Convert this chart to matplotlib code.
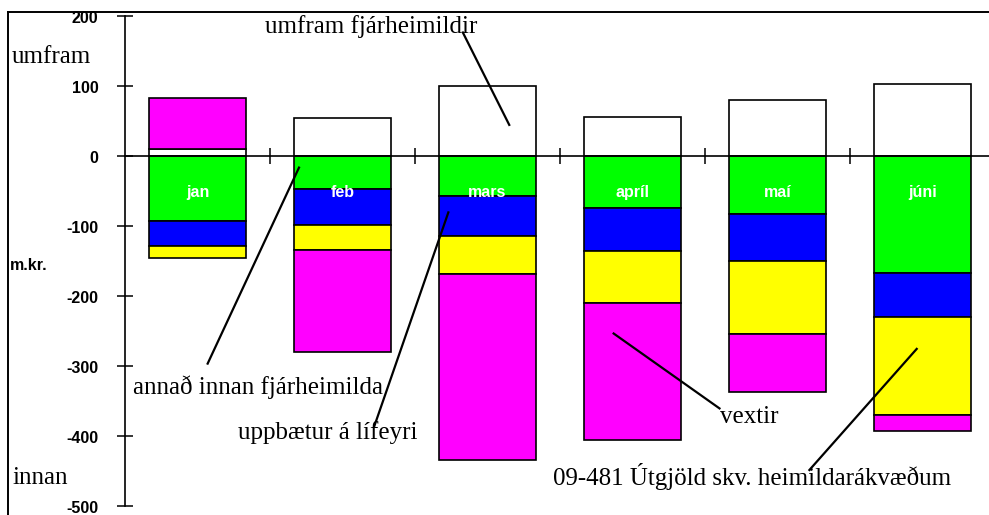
import numpy as np
import matplotlib.pyplot as plt
import matplotlib.transforms as mtransforms
from matplotlib.lines import Line2D

# data (m.kr.)
months = ['jan', 'feb', 'mars', 'apríl', 'maí', 'júni']
umfram = [9, 54, 100, 56, 79, 102]           # umfram fjárheimildir
annad = [-93, -48, -58, -75, -83, -167]      # annað innan fjárheimilda
uppbaetur = [-36, -51, -57, -61, -68, -63]   # uppbætur á lífeyri
utgjold = [-17, -35, -54, -75, -104, -140]   # 09-481 Útgjöld skv. heimildarákvæðum
vextir = [73, -146, -265, -195, -82, -23]    # vextir

series = [
    (umfram, 'white'),
    (annad, '#00ff00'),
    (uppbaetur, '#0000ff'),
    (utgjold, '#ffff00'),
    (vextir, '#ff00ff'),
]

serif = ['Liberation Serif', 'DejaVu Serif']
sans = ['Liberation Sans', 'DejaVu Sans']

fig = plt.figure(figsize=(9.89, 5.15), dpi=100)
# axes deliberately runs past the right edge, like the original
ax = fig.add_axes([125 / 989, 9.3 / 515, 870 / 989, 490 / 515])

x = np.arange(len(months)) + 0.5
pos_bottom = np.zeros(len(months))
neg_bottom = np.zeros(len(months))
for vals, col in series:
    vals = np.array(vals, dtype=float)
    bottom = np.where(vals >= 0, pos_bottom, neg_bottom)
    ax.bar(x, vals, width=0.67, bottom=bottom, color=col,
           edgecolor='black', linewidth=1.2, zorder=3)
    pos_bottom += np.where(vals >= 0, vals, 0)
    neg_bottom += np.where(vals < 0, vals, 0)

for xi, m in zip(x, months):
    ax.text(xi, -53, m, color='white', fontweight='bold', fontsize=11.5,
            family=sans, ha='center', va='center', zorder=5)

ax.set_xlim(0, 6)
ax.set_ylim(-500, 200)
ax.set_yticks(np.arange(-500, 201, 100))
ax.set_yticklabels([str(v) for v in range(-500, 201, 100)],
                   fontweight='bold', fontsize=11.5, family=sans)
ax.set_xticks([1, 2, 3, 4, 5, 6])
ax.set_xticklabels([])
ax.tick_params(axis='both', direction='inout', length=11.5, width=1.1)
ax.tick_params(axis='y', pad=13.5)
# nudge y tick labels slightly down
shift = mtransforms.ScaledTranslation(0, -1.0 / 100, fig.dpi_scale_trans)
for lab in ax.get_yticklabels():
    lab.set_transform(lab.get_transform() + shift)
ax.spines['top'].set_visible(False)
ax.spines['right'].set_visible(False)
ax.spines['bottom'].set_position(('data', 0))
ax.spines['bottom'].set_zorder(4)
for s in ['left', 'bottom']:
    ax.spines[s].set_linewidth(1.2)
ax.patch.set_alpha(0)

# annotation labels with leader lines
def label(txt, xy_text, p1, p2, ha='left'):
    ax.text(xy_text[0], xy_text[1], txt, family=serif, fontsize=18,
            ha=ha, va='center', zorder=6)
    ax.plot([p1[0], p2[0]], [p1[1], p2[1]], color='black', lw=1.6,
            zorder=6, clip_on=False)

label('umfram fjárheimildir', (1.70, 185), (2.33, 176), (2.65, 44), ha='center')
label('annað innan fjárheimilda', (0.055, -331), (0.57, -297), (1.20, -17))
label('uppbætur á lífeyri', (0.78, -396), (1.72, -386), (2.23, -81))
label('vextir', (4.10, -373), (3.37, -254), (4.10, -361))
label('09-481 Útgjöld skv. heimildarákvæðum', (2.95, -459), (4.72, -449), (5.46, -276))

fig.text(12 / 989, 1 - 57 / 515, 'umfram', family=serif, fontsize=18, va='center')
fig.text(12 / 989, 1 - 478 / 515, 'innan', family=serif, fontsize=18, va='center')
fig.text(10 / 989, 1 - 265 / 515, 'm.kr.', family=sans, fontsize=11.5,
         fontweight='bold', va='center')

# outer frame (only top and left edges are visible)
fig.add_artist(Line2D([8 / 989, 1], [1 - 12 / 515] * 2, color='black', lw=1.4))
fig.add_artist(Line2D([8 / 989] * 2, [0, 1 - 12 / 515], color='black', lw=1.4))

fig.savefig('out.png', dpi=100)
